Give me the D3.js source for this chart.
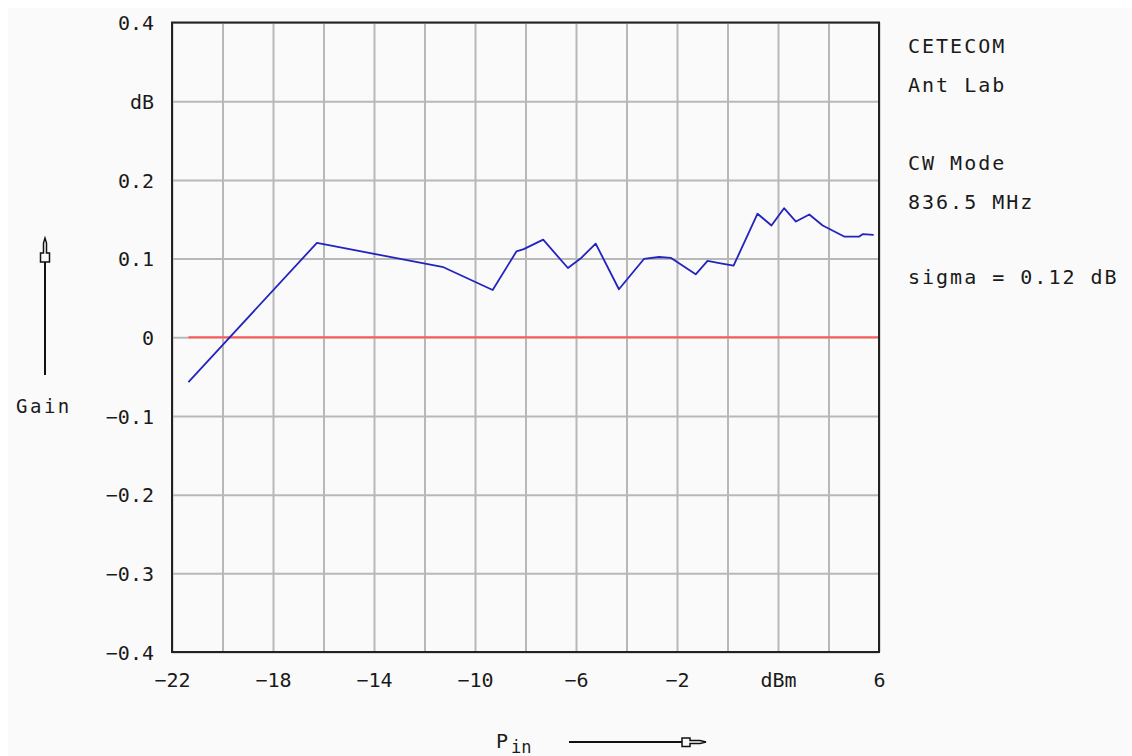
<!DOCTYPE html>
<html>
<head>
<meta charset="utf-8">
<script src="https://cdn.jsdelivr.net/npm/d3@7"></script>
<style>
  html, body { margin: 0; padding: 0; background: #ffffff; }
  svg { display: block; }
  text { font-family: "DejaVu Sans Mono", "Liberation Mono", monospace; fill: #1a1a1a; }
</style>
</head>
<body>
<svg id="chart" width="1132" height="756"></svg>
<script>
// ---- data ----
const pinDbm = [-21.35, -16.26, -11.25, -9.30, -8.36, -8.07, -7.30, -6.32, -5.82, -5.22, -4.30, -3.31, -2.71, -2.25, -1.26, -0.79, -0.27, 0.24, 1.19, 1.74, 2.24, 2.71, 3.24, 3.77, 4.62, 5.22, 5.35, 5.79];
const gainDb = [-0.057, 0.120, 0.089, 0.060, 0.109, 0.112, 0.124, 0.088, 0.100, 0.119, 0.061, 0.0995, 0.102, 0.101, 0.080, 0.097, 0.094, 0.091, 0.157, 0.142, 0.164, 0.147, 0.156, 0.142, 0.128, 0.128, 0.131, 0.130];
const xTickValues = [-22, -18, -14, -10, -6, -2, 2, 6];
const xTickLabels = ["\u221222", "\u221218", "\u221214", "\u221210", "\u22126", "\u22122", "dBm", "6"];
const xGridValues = [-22, -20, -18, -16, -14, -12, -10, -8, -6, -4, -2, 0, 2, 4, 6];
const yTickValues = [-0.4, -0.3, -0.2, -0.1, 0, 0.1, 0.2, 0.3, 0.4];
const yTickLabels = ["\u22120.4", "\u22120.3", "\u22120.2", "\u22120.1", "0", "0.1", "0.2", "dB", "0.4"];
const infoLines = ["CETECOM", "Ant Lab", "", "CW Mode", "836.5 MHz", "", "sigma = 0.12 dB"];

// ---- layout ----
const L = 172, R = 879, T = 22.5, B = 652;
const svg = d3.select("#chart");
svg.append("rect").attr("x", 8).attr("y", 8).attr("width", 1124).attr("height", 748).attr("fill", "#fafafa");

const x = d3.scaleLinear().domain([-22, 6]).range([L, R]);
const y = d3.scaleLinear().domain([-0.4, 0.4]).range([B, T]);

// grid
const grid = svg.append("g");
grid.append("g").attr("transform", `translate(0,${B})`)
  .call(d3.axisBottom(x).tickValues(xGridValues).tickSize(-(B - T)).tickFormat(""))
  .call(g => g.select(".domain").remove())
  .call(g => g.selectAll("line").attr("stroke", "#b8b8b8").attr("stroke-width", 2));
grid.append("g").attr("transform", `translate(${L},0)`)
  .call(d3.axisLeft(y).tickValues(yTickValues).tickSize(-(R - L)).tickFormat(""))
  .call(g => g.select(".domain").remove())
  .call(g => g.selectAll("line").attr("stroke", "#b8b8b8").attr("stroke-width", 2));

// zero line (red)
svg.append("path")
  .datum([pinDbm[0], 6])
  .attr("d", d => d3.line()([[x(d[0]), y(0)], [x(d[1]), y(0)]]))
  .attr("stroke", "#ff5a5a").attr("stroke-width", 2).attr("fill", "none");

// frame
svg.append("rect").attr("x", L).attr("y", T).attr("width", R - L).attr("height", B - T)
  .attr("fill", "none").attr("stroke", "#222").attr("stroke-width", 2);

// data line
const line = d3.line().x((d, i) => x(pinDbm[i])).y(d => y(d));
svg.append("path").datum(gainDb).attr("d", line)
  .attr("fill", "none").attr("stroke", "#2323c0").attr("stroke-width", 1.8)
  .attr("stroke-linejoin", "round");

// x axis labels
svg.append("g").attr("transform", `translate(0,${B})`)
  .call(d3.axisBottom(x).tickValues(xTickValues).tickSize(0).tickPadding(0)
    .tickFormat((d, i) => xTickLabels[i]))
  .call(g => g.select(".domain").remove())
  .call(g => g.selectAll("text").attr("y", 35).attr("dy", 0)
    .style("font-size", "20px").style("font-family", "DejaVu Sans Mono").attr("fill", "#1a1a1a"));

// y axis labels
svg.append("g").attr("transform", `translate(${L},0)`)
  .call(d3.axisLeft(y).tickValues(yTickValues).tickSize(0).tickPadding(18)
    .tickFormat((d, i) => yTickLabels[i]))
  .call(g => g.select(".domain").remove())
  .call(g => g.selectAll("text").attr("dy", "0.36em")
    .style("font-size", "20px").style("font-family", "DejaVu Sans Mono").attr("fill", "#1a1a1a"));

// info text
const infoBase = [53, 92, 131, 170, 209, 248, 284];
svg.append("g").selectAll("text").data(infoLines).join("text")
  .attr("x", 908).attr("y", (d, i) => infoBase[i])
  .style("font-size", "20px").style("letter-spacing", "2px")
  .text(d => d);

// Gain label + arrow
svg.append("text").attr("x", 16).attr("y", 413).style("font-size", "19px").style("letter-spacing", "2.5px").text("Gain");
svg.append("line").attr("x1", 45).attr("x2", 45).attr("y1", 375).attr("y2", 262).attr("stroke", "#111").attr("stroke-width", 2);
svg.append("path").attr("d", "M40.5,262 L49.5,262 L49.5,253 L46.5,253 L46.5,243 L45,238 L43.5,243 L43.5,253 L40.5,253 Z")
  .attr("fill", "#fafafa").attr("stroke", "#111").attr("stroke-width", 1.5);

// P_in label + arrow
const pin = svg.append("text").attr("x", 496).attr("y", 748).style("font-size", "20px");
pin.append("tspan").text("P");
pin.append("tspan").attr("dx", 3).attr("dy", 5).style("font-size", "17px").text("in");
svg.append("line").attr("x1", 569).attr("x2", 682).attr("y1", 742).attr("y2", 742).attr("stroke", "#111").attr("stroke-width", 2);
svg.append("path").attr("d", "M682,738 L682,746.5 L690,746.5 L690,743.5 L700,743.5 L706,742 L700,740.5 L690,740.5 L690,738 Z")
  .attr("fill", "#fafafa").attr("stroke", "#111").attr("stroke-width", 1.5);
</script>
</body>
</html>
